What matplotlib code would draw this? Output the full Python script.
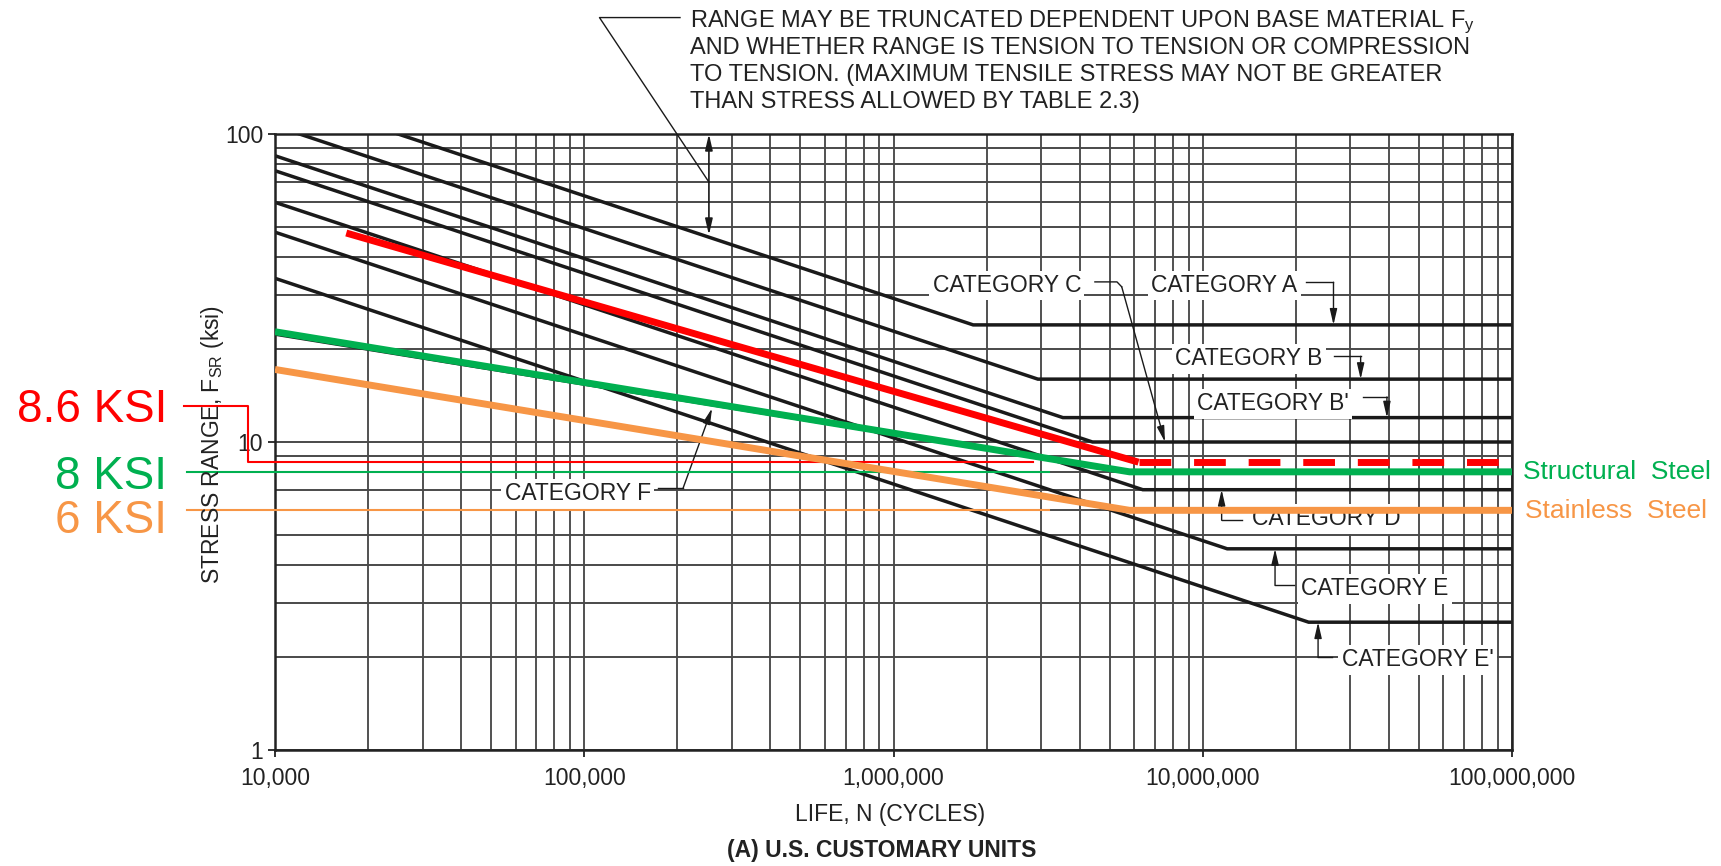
import numpy as np
import matplotlib
matplotlib.use("Agg")
import matplotlib.pyplot as plt
import matplotlib.transforms as mtransforms
from matplotlib.ticker import FixedLocator, LogLocator, NullFormatter, FixedFormatter

plt.rcParams['font.family'] = ['Liberation Sans', 'DejaVu Sans']
plt.rcParams['mathtext.default'] = 'regular'

# ---- AWS fatigue design curves (sloped branch start, knee, constant-amplitude threshold)
categories = ["A", "B", "B'", "C", "D", "E", "E'", "F"]
start_cycles = [2.5e4, 1.2e4, 1.0e4, 1.0e4, 1.0e4, 1.0e4, 1.0e4, 1.0e4]
start_stress = [100, 100, 85, 76, 60, 48, 34, 22.4]
knee_cycles = [1.81e6, 2.93e6, 3.53e6, 4.4e6, 6.4e6, 1.2e7, 2.2e7, 5.7e6]
threshold_ksi = [24, 16, 12, 10, 7, 4.5, 2.6, 8]
end_cycles = 1e8

# ---- highlighted design curves
red_cycles = [1.7e4, 6.2e6]
red_stress = [47.7, 8.6]
red_threshold = 8.6
structural_cycles = [1e4, 5.8e6, 1e8]
structural_stress = [22.8, 8.0, 8.0]
stainless_cycles = [1e4, 5.8e6, 1e8]
stainless_stress = [17.2, 6.0, 6.0]

x_ticks = [1e4, 1e5, 1e6, 1e7, 1e8]
x_tick_labels = ["10,000", "100,000", "1,000,000", "10,000,000", "100,000,000"]
y_ticks = [1, 10, 100]
y_tick_labels = ["1", "10", "100"]

RED = "#FF0000"
GREEN = "#00B050"
ORANGE = "#F79646"
INK = "#1a1a1a"

W, H = 1721, 866
fig = plt.figure(figsize=(W / 100, H / 100), dpi=100)


def fx(px):
    return px / W


def fy(py):
    return 1 - py / H


ax = fig.add_axes([fx(275), fy(750), 1237 / W, 616 / H])
ax.set_xscale('log')
ax.set_yscale('log')
ax.set_xlim(1e4, 1e8)
ax.set_ylim(1, 100)

# drafted log grid
ax.xaxis.set_major_locator(FixedLocator(x_ticks))
ax.xaxis.set_major_formatter(FixedFormatter(x_tick_labels))
ax.yaxis.set_major_locator(FixedLocator(y_ticks))
ax.yaxis.set_major_formatter(FixedFormatter(y_tick_labels))
ax.xaxis.set_minor_locator(LogLocator(base=10, subs=np.arange(2, 10)))
ax.yaxis.set_minor_locator(LogLocator(base=10, subs=np.arange(2, 10)))
ax.xaxis.set_minor_formatter(NullFormatter())
ax.yaxis.set_minor_formatter(NullFormatter())
ax.set_axisbelow(True)
ax.grid(which='both', axis='x', color='#222222', lw=1.1)
ax.grid(which='both', axis='y', color='#4a4a4a', lw=1.4)
ax.tick_params(which='minor', length=0)
ax.tick_params(axis='x', which='major', length=5, width=1.3, direction='out',
               labelsize=16.5, pad=7, colors='#222222')
ax.tick_params(axis='y', which='major', length=5, width=1.3, direction='out',
               labelsize=16.5, pad=3.5, colors='#222222')
for sp in ax.spines.values():
    sp.set_linewidth(1.8)
    sp.set_color('#222222')

# category curves
for n0, s0, nk, sth in zip(start_cycles, start_stress, knee_cycles, threshold_ksi):
    ax.plot([n0, nk, end_cycles], [s0, sth, sth], color=INK, lw=2.5,
            solid_joinstyle='miter', zorder=2.5)

# ---- category labels with leaders (data coordinates)
label_style = dict(fontsize=16.5, color='#222222', ha='left', va='baseline', zorder=3,
                   bbox=dict(facecolor='white', edgecolor='none', pad=2.5))
arrow_style = dict(arrowstyle='-|>,head_length=0.95,head_width=0.22', mutation_scale=10,
                   lw=1.0, color=INK, shrinkA=0, shrinkB=0)
labels = [
    ("CATEGORY C", 1.337e6, 30.7, [4.48e6, 5.28e6, 5.47e6], [33.1, 33.1, 31.9], (7.55e6, 10)),
    ("CATEGORY A", 6.80e6, 30.7, [2.157e7, 2.647e7], [33.0, 33.0], (2.647e7, 24)),
    ("CATEGORY B", 8.13e6, 17.74, [2.667e7, 3.24e7], [18.97, 18.97], (3.24e7, 16)),
    ("CATEGORY B'", 9.58e6, 12.67, [3.30e7, 3.94e7], [14.0, 14.0], (3.94e7, 12)),
    ("CATEGORY D", 1.44e7, 5.365, [1.337e7, 1.151e7], [5.57, 5.57], (1.151e7, 7)),
    ("CATEGORY E", 2.079e7, 3.18, [1.973e7, 1.713e7], [3.425, 3.425], (1.713e7, 4.5)),
    ("CATEGORY E'", 2.81e7, 1.87, [2.62e7, 2.36e7], [2.0, 2.0], (2.36e7, 2.6)),
    ("CATEGORY F", 5.54e4, 6.47, [1.732e5, 2.086e5], [7.07, 7.07], (2.59e5, 12.87)),
]
for text, tx, ty, lx, ly, tip in labels:
    ax.text(tx, ty, text, **label_style)
    ax.plot(lx, ly, color=INK, lw=1.0, zorder=3.5)
    ax.annotate('', xy=tip, xytext=(lx[-1], ly[-1]), arrowprops=arrow_style, zorder=3.5)

# truncation note leader and double arrow
ax.plot([2.04e5, 1.12e5, 2.53e5], [238.8, 238.8, 69.8], color=INK, lw=1.0,
        clip_on=False, zorder=3.5)
ax.annotate('', xy=(2.53e5, 100), xytext=(2.53e5, 47),
            arrowprops=dict(arrowstyle='<|-|>,head_length=0.95,head_width=0.22',
                            mutation_scale=10, lw=1.2, color=INK, shrinkA=0, shrinkB=0),
            zorder=3.5)

note_lines = [
    "RANGE MAY BE TRUNCATED DEPENDENT UPON BASE MATERIAL F$_y$",
    "AND WHETHER RANGE IS TENSION TO TENSION OR COMPRESSION",
    "TO TENSION. (MAXIMUM TENSILE STRESS MAY NOT BE GREATER",
    "THAN STRESS ALLOWED BY TABLE 2.3)",
]
for line, base in zip(note_lines, [27, 54.5, 81.5, 108.2]):
    fig.text(fx(690), fy(base), line, fontsize=17, color='#222222', va='baseline', ha='left')

# ---- highlighted curves
ax.plot(red_cycles, red_stress, color=RED, lw=5, solid_capstyle='butt', zorder=5)
ax.plot([red_cycles[-1], end_cycles], [red_threshold, red_threshold], color=RED, lw=5,
        linestyle=(0, (4.57, 3.29)), dash_capstyle='butt', zorder=5)
ax.plot(structural_cycles, structural_stress, color=GREEN, lw=5,
        solid_capstyle='butt', solid_joinstyle='miter', zorder=5)
ax.plot(stainless_cycles, stainless_stress, color=ORANGE, lw=5,
        solid_capstyle='butt', solid_joinstyle='miter', zorder=5)

# thin threshold reference lines out to the value labels
blend = mtransforms.blended_transform_factory(ax.transAxes, ax.transData)
ax.plot([-0.0736, -0.0218, -0.0218, 0.613], [13.06, 13.06, red_threshold, red_threshold],
        color=RED, lw=1.5, transform=blend, clip_on=False, zorder=4)
ax.plot([-0.0711, 0.6257], [structural_stress[-1]] * 2, color=GREEN, lw=1.5,
        transform=blend, clip_on=False, zorder=4)
ax.plot([-0.0711, 0.6257], [stainless_stress[-1]] * 2, color=ORANGE, lw=1.5,
        transform=blend, clip_on=False, zorder=4)

fig.text(fx(167), fy(422.4), f"{red_threshold:g} KSI", color=RED, fontsize=33,
         ha='right', va='baseline')
fig.text(fx(167), fy(489), f"{structural_stress[-1]:g} KSI", color=GREEN, fontsize=33,
         ha='right', va='baseline')
fig.text(fx(167), fy(533), f"{stainless_stress[-1]:g} KSI", color=ORANGE, fontsize=33,
         ha='right', va='baseline')
fig.text(fx(1523), fy(479.4), "Structural  Steel", color=GREEN, fontsize=19,
         ha='left', va='baseline')
fig.text(fx(1525), fy(517.7), "Stainless  Steel", color=ORANGE, fontsize=19,
         ha='left', va='baseline')

# axis titles and caption
fig.text(fx(213), fy(444), "STRESS RANGE, F$_{SR}$ (ksi)", rotation=90, fontsize=16.5,
         color='#222222', ha='center', va='center')
fig.text(fx(890), fy(814), "LIFE, N (CYCLES)", fontsize=16.5, color='#222222',
         ha='center', va='center')
fig.text(fx(882), fy(850), "(A) U.S. CUSTOMARY UNITS", fontsize=16.5, fontweight='bold',
         color='#222222', ha='center', va='center')

fig.savefig("out.png", dpi=100, facecolor='white')
